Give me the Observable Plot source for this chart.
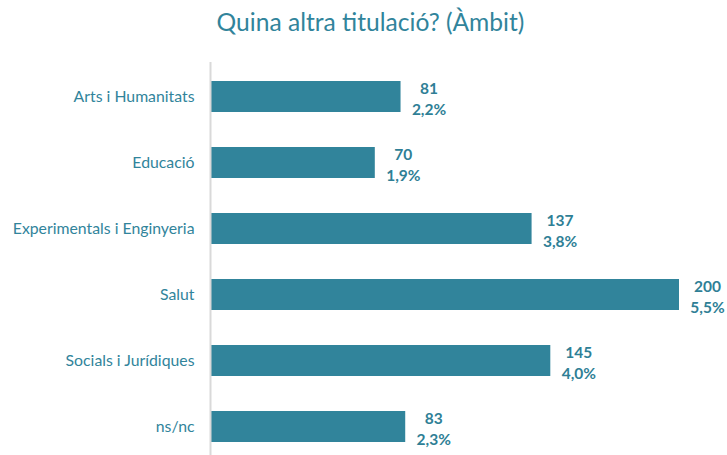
<!DOCTYPE html>
<html>
<head>
<meta charset="utf-8">
<script src="https://cdn.jsdelivr.net/npm/d3@7"></script>
<script src="https://cdn.jsdelivr.net/npm/@observablehq/plot@0.6"></script>
<style>
  html, body { margin: 0; padding: 0; background: #fff; overflow: hidden; }
  #title { height: 62px; box-sizing: border-box; padding-top: 6px; padding-left: 14px; text-align: center;
    font-family: Lato, "Open Sans", sans-serif; font-size: 24.6px; color: #31849B; line-height: 32px; }
</style>
</head>
<body>
<div id="title">Quina altra titulació? (Àmbit)</div>
<div id="chart"></div>
<script>
const categories = ["Arts i Humanitats", "Educació", "Experimentals i Enginyeria", "Salut", "Socials i Jurídiques", "ns/nc"];
const counts = [81, 70, 137, 200, 145, 83];
const percents = ["2,2%", "1,9%", "3,8%", "5,5%", "4,0%", "2,3%"];

const data = categories.map((c, i) => ({category: c, count: counts[i], pct: percents[i]}));
const teal = "#31849B";

const chart = Plot.plot({
  width: 727,
  height: 393,
  marginTop: 0,
  marginBottom: 0,
  marginLeft: 211,
  marginRight: 48,
  style: {fontFamily: "Lato, 'Open Sans', sans-serif", background: "#fff"},
  x: {domain: [0, 200], range: [211, 679], axis: null},
  y: {domain: categories, range: [0, 398.4], paddingInner: 0.53, paddingOuter: 0.265, label: null},
  marks: [
    Plot.barX(data, {y: "category", x: "count", fill: teal}),
    Plot.ruleX([0], {stroke: "#d9d9d9", strokeWidth: 2, dx: -1}),
    Plot.axisY({tickSize: 0, tickPadding: 17, fontSize: 15.8, color: teal, label: null}),
    Plot.text(data, {
      y: "category", x: "count",
      text: d => d.count + "\n" + d.pct,
      dx: 28, dy: 1, textAnchor: "middle", lineHeight: 1.35,
      fontSize: 15.5, fontWeight: "bold", fill: "#2f7f96"
    })
  ]
});
document.getElementById("chart").appendChild(chart);
</script>
</body>
</html>
